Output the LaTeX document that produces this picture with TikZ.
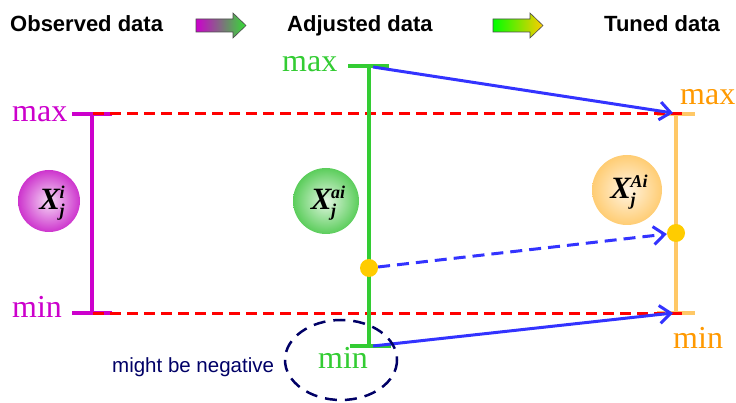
\documentclass[tikz,border=0pt]{standalone}
\usepackage{fontspec}
\setmainfont{Liberation Serif}
\newfontfamily\arialf{Liberation Sans}
\usetikzlibrary{arrows.meta}
\definecolor{magc}{HTML}{CC00CC}
\definecolor{greenc}{HTML}{33CC33}
\definecolor{orbar}{HTML}{FFC866}
\definecolor{ortext}{HTML}{FF9900}
\definecolor{dotc}{HTML}{FFCC00}
\definecolor{bluec}{HTML}{3333FF}
\definecolor{navyc}{HTML}{000066}
\definecolor{magin}{HTML}{F6DAF6}
\definecolor{magout}{HTML}{C000C0}
\definecolor{grin}{HTML}{E2F6E2}
\definecolor{grout}{HTML}{30C030}
\definecolor{orin}{HTML}{FFF4E2}
\definecolor{orout}{HTML}{FFC050}
\definecolor{hdrgreen}{HTML}{33DD33}
\definecolor{hdrlime}{HTML}{00FF00}
\pgfdeclareradialshading{magball}{\pgfpoint{0bp}{0bp}}{color(0bp)=(magin); color(33bp)=(magout); color(50bp)=(magout)}
\pgfdeclareradialshading{grball}{\pgfpoint{0bp}{0bp}}{color(0bp)=(grin); color(33bp)=(grout); color(50bp)=(grout)}
\pgfdeclareradialshading{orball}{\pgfpoint{0bp}{0bp}}{color(0bp)=(orin); color(33bp)=(orout); color(50bp)=(orout)}
\newcommand{\xlab}[1]{{\fontsize{31}{31}\selectfont\bfseries\itshape X}\kern-0.5pt{\fontsize{18}{18}\selectfont\bfseries\itshape\raisebox{-7pt}{\rlap{j}}\raisebox{11pt}{#1}}}
\begin{document}
\begin{tikzpicture}[x=1pt,y=-1pt,
  hdr/.style={font=\arialf\bfseries\fontsize{22}{22}\selectfont, inner sep=0pt, anchor=base west},
  lim/.style={font=\fontsize{32}{32}\selectfont, inner sep=0pt, anchor=base west},
  hdrarrow/.style={draw=black!70, line width=0.6pt},
  magbar/.style={magc, line width=4pt},
  grbar/.style={greenc, line width=4pt},
  orbarst/.style={orbar, line width=3.5pt},
  reddash/.style={red, line width=3pt, dash pattern=on 11pt off 6pt},
  bluearr/.style={bluec, line width=3pt, -{Straight Barb[length=11pt,width=18pt]}},
  dotst/.style={circle, fill=dotc, minimum size=18pt, inner sep=0pt},
  lbl/.style={inner sep=0pt}
]
\useasboundingbox (0,0) rectangle (736,403);

% headers
\node[hdr] (obs) at (10,32) {Observed data};
\node[hdr] (adj) at (287,32) {Adjusted data};
\node[hdr] (tun) at (604,32) {Tuned data};
\shade[left color=magc, right color=hdrgreen, hdrarrow]
  (196,19) -- (233,19) -- (233,13) -- (246,25.5) -- (233,38) -- (233,32) -- (196,32) -- cycle;
\shade[left color=hdrlime, right color=dotc, hdrarrow]
  (493,19) -- (530,19) -- (530,13) -- (543,25.5) -- (530,38) -- (530,32) -- (493,32) -- cycle;

% coordinates
\coordinate (mT) at (92,114); \coordinate (mB) at (92,313);
\coordinate (mTl) at (72,114); \coordinate (mTr) at (112,114);
\coordinate (mBl) at (72,313); \coordinate (mBr) at (112,313);
\coordinate (gT) at (369,66); \coordinate (gB) at (369,346);
\coordinate (gTl) at (348,66); \coordinate (gTr) at (389,66);
\coordinate (gBl) at (350,346); \coordinate (gBr) at (391,346);
\coordinate (oT) at (676,114); \coordinate (oB) at (676,313);
\coordinate (oTl) at (657,114); \coordinate (oTr) at (695,114);
\coordinate (oBl) at (657,313); \coordinate (oBr) at (695,313);
\coordinate (r1s) at (93,114); \coordinate (r1e) at (682,114);
\coordinate (r2s) at (93,313); \coordinate (r2e) at (682,313);
\coordinate (a1s) at (373,67); \coordinate (a1e) at (673,113);
\coordinate (a3s) at (373,346); \coordinate (a3e) at (673,313);

% balls
\shade[shading=magball] (49,201) circle[radius=31];
\node[lbl] (xm) at (52,203) {\xlab{i}};
\shade[shading=grball] (326,201) circle[radius=33];
\node[lbl] (xg) at (328,203) {\xlab{ai}};
\shade[shading=orball] (627,190) circle[radius=35];
\node[lbl] (xo) at (629,192) {\xlab{Ai}};

% magenta bar
\draw[magbar] (mT) -- (mB);
\draw[magbar] (mTl) -- (mTr);
\draw[magbar] (mBl) -- (mBr);
\node[lim, text=magc] (mmax) at (12,122) {max};
\node[lim, text=magc] (mmin) at (12,317) {min};

% orange bar
\draw[orbarst] (oT) -- (oB);
\draw[orbarst] (oTl) -- (oTr);
\draw[orbarst] (oBl) -- (oBr);
\node[lim, text=ortext] (omax) at (680,105) {max};
\node[lim, text=ortext] (omin) at (673,348) {min};

% red dashed
\draw[reddash] (r1s) -- (r1e);
\draw[reddash] (r2s) -- (r2e);

% green bar
\draw[grbar] (gT) -- (gB);
\draw[grbar] (gTl) -- (gTr);
\draw[grbar] (gBl) -- (gBr);
\node[lim, text=greenc] (gmax) at (282,72) {max};
\node[lim, text=greenc] (gmin) at (318,368) {min};

% dots
\node[dotst] (gdot) at (369,268) {};
\node[dotst] (odot) at (676,233) {};

% blue arrows
\draw[bluearr] (a1s) -- (a1e);
\draw[bluearr] (a3s) -- (a3e);
\draw[bluearr, dash pattern=on 12pt off 7pt] (gdot) -- (odot);

% ellipse and note
\draw[navyc, line width=2.5pt, dash pattern=on 12pt off 8pt] (341,360) ellipse [x radius=56, y radius=40];
\node[inner sep=0pt, anchor=base west, text=navyc, font=\arialf\fontsize{20.5}{20.5}\selectfont] (neg) at (112,372) {might be negative};
\end{tikzpicture}
\end{document}
